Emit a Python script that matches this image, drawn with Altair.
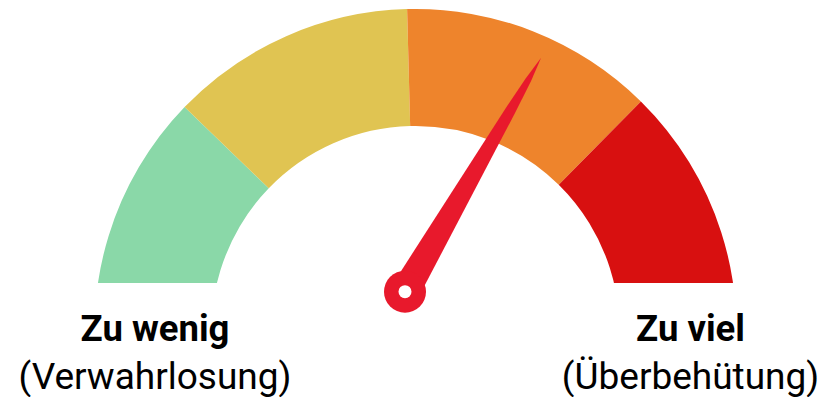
import math
import altair as alt
import pandas as pd

# ---------------- data ----------------
segment_names = ["Zu wenig", "Eher wenig", "Eher viel", "Zu viel"]
segment_start = [-100.0, -46.0, -1.5, 44.6]   # degrees, 0 = straight up
segment_end = [-46.0, -1.5, 44.6, 100.0]
segment_colors = ["#8AD8A8", "#E0C452", "#EE842C", "#D81010"]

needle_angle = [30.2]          # degrees clockwise from vertical

label_main = ["Zu wenig", "Zu viel"]
label_sub = ["(Verwahrlosung)", "(Überbehütung)"]

# ---------------- layout (pixels) ----------------
W, H = 810, 389
PX = 321.0                 # pixels per gauge unit (= outer radius)
CX, CY = 407.5, 322.0      # gauge centre in plot pixels
R_OUT, R_IN = 321, 204
CUT_Y = 275.0              # plot-pixel line below which the gauge is cut
PIVOT = (397.0, 283.7)     # needle pivot in plot pixels
NEEDLE_LEN = 270.6
LBL_X = [147.0, 682.5]
MAIN_BASE = 333.0
SUB_BASE = 381.0


def ux(px):
    return (px - CX) / PX


def uy(py):
    return (CY - py) / PX


xs = alt.Scale(domain=[ux(0), ux(W)], range=[0, W], nice=False, zero=False)
ys = alt.Scale(domain=[uy(H), uy(0)], range=[H, 0], nice=False, zero=False)

seg = pd.DataFrame({
    "name": segment_names,
    "start": segment_start,
    "end": segment_end,
    "cx": 0.0,
    "cy": 0.0,
})

arcs = alt.Chart(seg).mark_arc(radius=R_OUT, radius2=R_IN, stroke=None).encode(
    x=alt.X("cx:Q", scale=xs, axis=None),
    y=alt.Y("cy:Q", scale=ys, axis=None),
    theta=alt.Theta("start:Q", scale=alt.Scale(domain=[-180, 180], range=[-math.pi, math.pi]), stack=False),
    theta2="end:Q",
    color=alt.Color("name:N", scale=alt.Scale(domain=segment_names, range=segment_colors), legend=None),
)

cut = pd.DataFrame({"x1": [ux(0)], "x2": [ux(W)], "y1": [uy(CUT_Y)], "y2": [uy(H)]})
mask = alt.Chart(cut).mark_rect(color="white").encode(
    x=alt.X("x1:Q", scale=xs, axis=None), x2="x2:Q",
    y=alt.Y("y1:Q", scale=ys, axis=None), y2="y2:Q",
)

hw0, hw1, hw2 = 14.5, 5.2, 3.0
d1, d2 = 210.0, 245.0
L = NEEDLE_LEN
needle_path = (
    f"M {-hw0/L:.4f} 0 L {-hw1/L:.4f} {-d1/L:.4f} L {-hw2/L:.4f} {-d2/L:.4f} L 0 -1 "
    f"L {hw2/L:.4f} {-d2/L:.4f} L {hw1/L:.4f} {-d1/L:.4f} L {hw0/L:.4f} 0 Z"
)

nd = pd.DataFrame({"px": [ux(PIVOT[0])], "py": [uy(PIVOT[1])], "angle": needle_angle})
needle = alt.Chart(nd).mark_point(
    shape=needle_path, filled=True, color="#E8192C", opacity=1, strokeWidth=0,
    size=(2 * L) ** 2,
).encode(
    x=alt.X("px:Q", scale=xs, axis=None),
    y=alt.Y("py:Q", scale=ys, axis=None),
    angle=alt.Angle("angle:Q", scale=None),
)
hub = alt.Chart(nd).mark_circle(color="#E8192C", opacity=1, size=42 ** 2).encode(
    x=alt.X("px:Q", scale=xs, axis=None),
    y=alt.Y("py:Q", scale=ys, axis=None),
)
dot = alt.Chart(nd).mark_circle(color="white", opacity=1, size=13 ** 2).encode(
    x=alt.X("px:Q", scale=xs, axis=None),
    y=alt.Y("py:Q", scale=ys, axis=None),
)

lab = pd.DataFrame({
    "main": label_main,
    "sub": label_sub,
    "lx": [ux(v) for v in LBL_X],
    "my": uy(MAIN_BASE),
    "sy": uy(SUB_BASE),
})
main_txt = alt.Chart(lab).mark_text(
    font="Roboto", fontSize=36.5, fontWeight="bold", color="#000000", align="center", baseline="alphabetic"
).encode(
    x=alt.X("lx:Q", scale=xs, axis=None),
    y=alt.Y("my:Q", scale=ys, axis=None),
    text="main:N",
)
sub_txt = alt.Chart(lab).mark_text(
    font="Roboto", fontSize=37, color="#000000", align="center", baseline="alphabetic"
).encode(
    x=alt.X("lx:Q", scale=xs, axis=None),
    y=alt.Y("sy:Q", scale=ys, axis=None),
    text="sub:N",
)

chart = alt.layer(arcs, mask, needle, hub, dot, main_txt, sub_txt).properties(
    width=W, height=H, padding=0, autosize="none"
).configure_view(stroke=None)

chart.save("out.html", embed_options={"renderer": "svg", "actions": False})
